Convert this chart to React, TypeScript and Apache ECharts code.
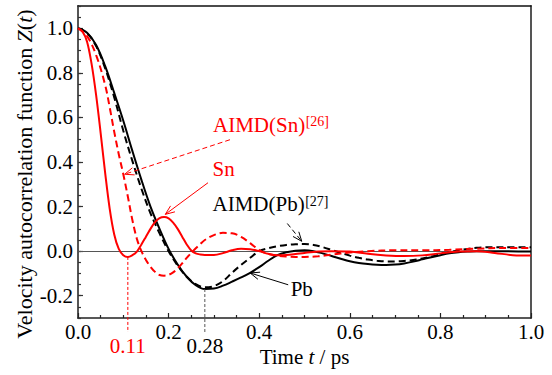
import React, { useEffect, useRef } from "react";
import * as echarts from "echarts";

// ---- data ----
const snT = [0, 0.01, 0.02, 0.03, 0.04, 0.05, 0.06, 0.07, 0.08, 0.09, 0.10, 0.11, 0.12, 0.13, 0.14, 0.15, 0.16, 0.17, 0.18, 0.19, 0.20, 0.21, 0.22, 0.23, 0.24, 0.25, 0.26, 0.27, 0.28, 0.30, 0.32, 0.34, 0.36, 0.38, 0.40, 0.42, 0.44, 0.46, 0.48, 0.50, 0.53, 0.56, 0.60, 0.64, 0.68, 0.72, 0.76, 0.80, 0.84, 0.88, 0.92, 0.96, 1.00];
const snZ = [1.0, 0.985, 0.94, 0.84, 0.70, 0.53, 0.35, 0.19, 0.075, 0.01, -0.018, -0.026, -0.018, -0.002, 0.03, 0.065, 0.1, 0.13, 0.148, 0.153, 0.147, 0.128, 0.1, 0.065, 0.03, 0.003, -0.01, -0.015, -0.017, -0.017, -0.009, 0.004, 0.011, 0.009, 0.0, -0.012, -0.018, -0.017, -0.013, -0.008, -0.002, 0.0, -0.002, -0.012, -0.019, -0.022, -0.019, -0.01, -0.002, 0.0, -0.008, -0.018, -0.02];

const aimdSnT = [0, 0.02, 0.04, 0.06, 0.07, 0.08, 0.09, 0.10, 0.11, 0.12, 0.13, 0.14, 0.15, 0.16, 0.17, 0.18, 0.19, 0.20, 0.21, 0.22, 0.23, 0.24, 0.25, 0.26, 0.27, 0.28, 0.30, 0.32, 0.34, 0.36, 0.38, 0.40, 0.42, 0.44, 0.46, 0.48, 0.50, 0.53, 0.56, 0.60, 0.64, 0.70, 0.76, 0.82, 0.88, 0.94, 1.00];
const aimdSnZ = [1.0, 0.965, 0.88, 0.745, 0.645, 0.535, 0.435, 0.345, 0.245, 0.14, 0.055, 0.0, -0.04, -0.07, -0.093, -0.107, -0.11, -0.106, -0.095, -0.077, -0.055, -0.03, -0.008, 0.013, 0.032, 0.05, 0.072, 0.082, 0.08, 0.064, 0.036, 0.005, -0.012, -0.02, -0.024, -0.026, -0.026, -0.023, -0.016, -0.006, 0.0, 0.004, 0.004, 0.006, 0.011, 0.014, 0.014];

const pbT = [0, 0.02, 0.04, 0.06, 0.08, 0.10, 0.12, 0.14, 0.16, 0.18, 0.20, 0.22, 0.24, 0.26, 0.28, 0.30, 0.32, 0.34, 0.36, 0.38, 0.40, 0.42, 0.44, 0.46, 0.48, 0.50, 0.52, 0.54, 0.56, 0.58, 0.60, 0.62, 0.64, 0.66, 0.68, 0.70, 0.72, 0.74, 0.76, 0.78, 0.80, 0.82, 0.84, 0.86, 0.88, 0.90, 0.94, 1.00];
const pbZ = [1.0, 0.98, 0.925, 0.83, 0.71, 0.585, 0.45, 0.32, 0.2, 0.1, 0.01, -0.06, -0.115, -0.153, -0.17, -0.168, -0.155, -0.137, -0.118, -0.097, -0.072, -0.043, -0.018, -0.005, 0.002, 0.004, 0.0, -0.01, -0.022, -0.034, -0.045, -0.053, -0.058, -0.061, -0.062, -0.06, -0.055, -0.047, -0.037, -0.027, -0.018, -0.01, -0.005, -0.002, 0.0, 0.0, 0.0, -0.002];

const aimdPbT = pbT;
const aimdPbZ = [1.0, 0.978, 0.92, 0.82, 0.69, 0.54, 0.405, 0.28, 0.17, 0.08, 0.0, -0.065, -0.115, -0.148, -0.162, -0.157, -0.135, -0.097, -0.062, -0.03, 0.0, 0.013, 0.022, 0.028, 0.031, 0.032, 0.028, 0.018, 0.005, -0.008, -0.02, -0.03, -0.038, -0.043, -0.046, -0.046, -0.044, -0.04, -0.033, -0.024, -0.014, -0.005, 0.003, 0.01, 0.015, 0.017, 0.018, 0.017];

const xTicks = [0, 0.2, 0.4, 0.6, 0.8, 1.0];
const yTicks = [-0.2, 0, 0.2, 0.4, 0.6, 0.8, 1.0];
const markedTimes = [0.11, 0.28];
const markedMins = [-0.026, -0.17];

// annotation anchors (data coordinates)
const arrowAimdSn = [[0.3355, 0.5], [0.103, 0.345]];
const arrowSn = [[0.287, 0.307], [0.1927, 0.165]];
const arrowAimdPb = [[0.462, 0.124], [0.494, 0.044]];
const arrowPb = [[0.464, -0.151], [0.38, -0.098]];
const labelAimdSn = [0.298, 0.567];
const labelSn = [0.297, 0.369];
const labelAimdPb = [0.297, 0.211];
const labelPb = [0.4695, -0.168];

const FONT = "'Liberation Serif', 'Times New Roman', serif";
const RED = "#ff0000";
const FS = 21;

const pairs = (t: number[], z: number[]) => t.map((v, i) => [v, z[i]]);

function measure(text: string, size: number) {
  const c = document.createElement("canvas").getContext("2d")!;
  c.font = `${size}px 'Liberation Serif'`;
  return c.measureText(text).width;
}

export default function App() {
  const ref = useRef<HTMLDivElement>(null);
  useEffect(() => {
    const chart = echarts.init(ref.current!, null, { renderer: "svg" });
    const lineSeries = (name: string, data: number[][], color: string, dashed: boolean) => ({
      name,
      type: "line",
      data,
      showSymbol: false,
      smooth: 0.35,
      clip: true,
      lineStyle: { color, width: 2, type: dashed ? [7, 4] : "solid" },
      z: 3,
    });
    const option: any = {
      animation: false,
      grid: { left: 78, right: 21, top: 6, bottom: 57 },
      xAxis: [
        {
          type: "value", min: 0, max: 1, interval: 0.2, position: "bottom",
          axisLine: { show: true, onZero: false, lineStyle: { color: "#222", width: 1.5 } },
          axisTick: { show: true, inside: true, length: 5, lineStyle: { color: "#222", width: 1.2 } },
          minorTick: { show: true, splitNumber: 4, length: 3, lineStyle: { color: "#222", width: 1.2 } },
          splitLine: { show: false },
          axisLabel: { margin: 3, fontSize: FS, fontFamily: FONT, color: "#000", formatter: (v: number) => v.toFixed(1) },
          name: "Time {i|t} / ps",
          nameLocation: "middle",
          nameGap: 19,
          nameTextStyle: { fontSize: FS, fontFamily: FONT, color: "#000", rich: { i: { fontStyle: "italic", fontSize: FS, fontFamily: FONT, color: "#000" } } },
        },
        {
          type: "value", min: 0, max: 1, position: "bottom",
          axisLine: { show: false, onZero: false }, axisTick: { show: false }, splitLine: { show: false },
          axisLabel: {
            customValues: markedTimes, margin: 17, fontSize: FS, fontFamily: FONT,
            color: (v: any) => (Math.abs(parseFloat(v) - markedTimes[0]) < 1e-6 ? RED : "#000"),
            formatter: (v: number) => v.toFixed(2),
          },
        },
        {
          type: "value", min: 0, max: 1, position: "top",
          axisLine: { show: true, onZero: false, lineStyle: { color: "#111", width: 1.5 } },
          axisTick: { show: false }, axisLabel: { show: false }, splitLine: { show: false },
        },
      ],
      yAxis: [
        {
          type: "value", min: -0.3, max: 1.1, position: "left",
          axisLine: { show: true, onZero: false, lineStyle: { color: "#555", width: 2 } },
          axisTick: { show: true, inside: true, length: 5, customValues: yTicks, lineStyle: { color: "#333", width: 1.2 } },
          axisLabel: { customValues: yTicks, margin: 5, fontSize: FS, fontFamily: FONT, color: "#000", formatter: (v: number) => v.toFixed(1) },
          splitLine: { show: false },
        },
        {
          type: "value", min: -0.3, max: 1.1, interval: 0.05, position: "left",
          axisLine: { show: false, onZero: false },
          axisTick: { show: true, inside: true, length: 3, lineStyle: { color: "#333", width: 1.2 } },
          axisLabel: { show: false }, splitLine: { show: false },
        },
        {
          type: "value", min: -0.3, max: 1.1, position: "right",
          axisLine: { show: true, onZero: false, lineStyle: { color: "#555", width: 2 } },
          axisTick: { show: false }, axisLabel: { show: false }, splitLine: { show: false },
        },
      ],
      series: [
        {
          ...lineSeries("Pb", pairs(pbT, pbZ), "#000", false),
          markLine: {
            silent: true, symbol: ["none", "none"], label: { show: false },
            lineStyle: { color: "#555", width: 1.2, type: "solid" },
            data: [{ yAxis: 0 }],
            z: 1,
          },
        },
        lineSeries("AIMD(Pb)", pairs(aimdPbT, aimdPbZ), "#000", true),
        lineSeries("AIMD(Sn)", pairs(aimdSnT, aimdSnZ), RED, true),
        lineSeries("Sn", pairs(snT, snZ), RED, false),
      ],
    };
    chart.setOption(option);

    const P = (t: number, z: number) => chart.convertToPixel({ gridIndex: 0 }, [t, z]) as number[];
    const g: any[] = [];

    // y-axis title
    g.push({
      type: "text", x: 24, y: 174, rotation: Math.PI / 2,
      style: {
        text: "Velocity autocorrelation function {i|Z}({i|t})",
        fontSize: 22, fontFamily: FONT, fill: "#000",
        align: "center", verticalAlign: "middle", textAlign: "center", textVerticalAlign: "middle",
        rich: { i: { fontStyle: "italic", fontSize: 22, fontFamily: FONT, fill: "#000", color: "#000" } },
      },
    });

    const arrow = (pts: number[][], color: string, dashed: boolean) => {
      const [x1, y1] = P(pts[0][0], pts[0][1]);
      const [x2, y2] = P(pts[1][0], pts[1][1]);
      const ang = Math.atan2(y2 - y1, x2 - x1);
      const L = 10, a = 0.38;
      const p1 = [x2 - L * Math.cos(ang - a), y2 - L * Math.sin(ang - a)];
      const p2 = [x2 - L * Math.cos(ang + a), y2 - L * Math.sin(ang + a)];
      const ls: any = { stroke: color, lineWidth: 1 };
      if (dashed) ls.lineDash = [5, 3];
      g.push({ type: "line", shape: { x1, y1, x2, y2 }, style: ls, z: 10 });
      g.push({ type: "polyline", shape: { points: [p1, [x2, y2], p2] }, style: { stroke: color, lineWidth: 1, fill: null }, z: 10 });
    };
    arrow(arrowAimdSn, RED, true);
    arrow(arrowSn, RED, false);
    arrow(arrowAimdPb, "#000", true);
    arrow(arrowPb, "#000", false);

    const label = (pos: number[], text: string, sup: string | null, color: string) => {
      const [x, y] = P(pos[0], pos[1]);
      g.push({
        type: "text", x, y, z: 10,
        style: { text, fontSize: FS, fontFamily: FONT, fill: color, align: "left", verticalAlign: "middle", textAlign: "left", textVerticalAlign: "middle" },
      });
      if (sup) {
        const w = measure(text, FS);
        g.push({
          type: "text", x: x + w + 0.5, y: y - 10, z: 10,
          style: { text: sup, fontSize: 14, fontFamily: FONT, fill: color, align: "left", verticalAlign: "top", textAlign: "left", textVerticalAlign: "top" },
        });
      }
    };
    label(labelAimdSn, "AIMD(Sn)", "[26]", RED);
    label(labelSn, "Sn", null, RED);
    label(labelAimdPb, "AIMD(Pb)", "[27]", "#000");
    label(labelPb, "Pb", null, "#000");

    // drop lines to the marked times
    const axisBottom = P(0, -0.3)[1];
    markedTimes.forEach((t, i) => {
      const [x, y] = P(t, markedMins[i]);
      g.push({
        type: "line", z: 10,
        shape: { x1: x, y1: y, x2: x, y2: axisBottom + 14 },
        style: { stroke: i === 0 ? RED : "#555", lineWidth: 1, lineDash: [3, 2] },
      });
    });

    chart.setOption({ graphic: g });
    return () => chart.dispose();
  }, []);
  return <div ref={ref} style={{ position: "absolute", left: 0, top: 0, width: 552, height: 375 }} />;
}
